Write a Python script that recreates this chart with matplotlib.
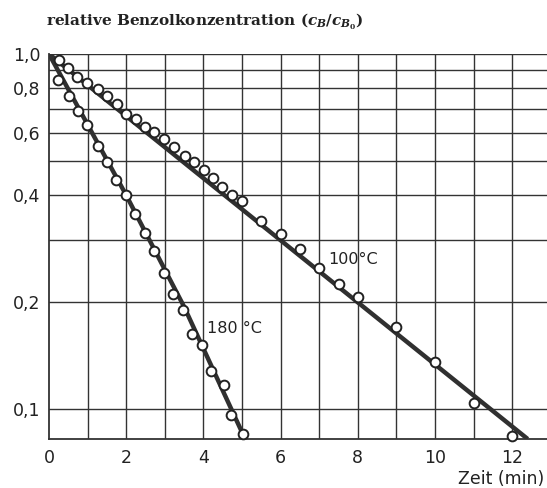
import numpy as np
import matplotlib
matplotlib.use("Agg")
import matplotlib.pyplot as plt
from matplotlib.ticker import FixedLocator, FixedFormatter, NullLocator

# Messpunkte 180 °C
t_180 = [0.24, 0.52, 0.75, 0.99, 1.26, 1.50, 1.74, 1.99, 2.24, 2.48, 2.72, 2.98,
         3.22, 3.47, 3.71, 3.96, 4.20, 4.53, 4.72, 5.02]
c_180 = [0.845, 0.763, 0.692, 0.629, 0.552, 0.496, 0.442, 0.401, 0.354, 0.313, 0.279, 0.241,
         0.211, 0.190, 0.163, 0.151, 0.128, 0.117, 0.096, 0.085]

# Messpunkte 100 °C
t_100 = [0.27, 0.50, 0.73, 0.99, 1.26, 1.51, 1.75, 1.99, 2.25, 2.49, 2.73, 2.98,
         3.23, 3.52, 3.76, 4.02, 4.26, 4.49, 4.75, 4.99, 5.5, 6.0, 6.5, 7.0, 7.5, 8.0,
         9.0, 10.0, 11.0, 12.0]
c_100 = [0.962, 0.911, 0.863, 0.827, 0.796, 0.763, 0.723, 0.676, 0.655, 0.624, 0.602, 0.575,
         0.548, 0.516, 0.495, 0.470, 0.447, 0.423, 0.401, 0.385, 0.339, 0.311, 0.283, 0.249,
         0.225, 0.207, 0.170, 0.136, 0.104, 0.084]

# Ausgleichslinien
fit_180_t = [0, 2.0, 3.5, 5.08]
fit_180_c = [1.0, 0.40, 0.194, 0.0823]
fit_100_t = [0, 12.4]
fit_100_c = [1.0, 0.0823]

x_ticks = [0, 2, 4, 6, 8, 10, 12]
y_grid = [0.1, 0.2, 0.3, 0.4, 0.5, 0.6, 0.7, 0.8, 0.9, 1.0]
y_labels = ["0,1", "0,2", "", "0,4", "", "0,6", "", "0,8", "", "1,0"]

plt.rcParams['font.family'] = 'DejaVu Sans'
plt.rcParams['mathtext.fontset'] = 'custom'
plt.rcParams['mathtext.it'] = 'DejaVu Serif:italic:bold'
plt.rcParams['mathtext.rm'] = 'DejaVu Serif:bold'

fig = plt.figure(figsize=(5.47, 4.88), dpi=100)
ax = fig.add_axes([0.0896, 0.1004, 0.9104, 0.7889])

ax.set_yscale('log')
ax.set_xlim(0, 12.9)
ax.set_ylim(0.0823, 1.0)

gridc = '#333333'
for x in range(1, 13):
    ax.axvline(x, color=gridc, lw=1.0, zorder=1)
for y in y_grid:
    ax.axhline(y, color=gridc, lw=1.0, zorder=1)

ax.plot(fit_180_t, fit_180_c, color='#303030', lw=3.2, solid_capstyle='butt', zorder=2)
ax.plot(fit_100_t, fit_100_c, color='#303030', lw=3.2, solid_capstyle='butt', zorder=2)
ax.plot(t_180, c_180, 'o', ms=7, mfc='white', mec='#222222', mew=1.4, zorder=3, clip_on=False)
ax.plot(t_100, c_100, 'o', ms=7, mfc='white', mec='#222222', mew=1.4, zorder=3, clip_on=False)

ax.text(4.1, 0.169, "180 °C", fontsize=11.5, va='center', ha='left', color='#222222')
ax.text(7.23, 0.263, "100°C", fontsize=11.5, va='center', ha='left', color='#222222')

ax.yaxis.set_major_locator(FixedLocator(y_grid))
ax.yaxis.set_major_formatter(FixedFormatter(y_labels))
ax.yaxis.set_minor_locator(NullLocator())
ax.set_xticks(x_ticks)
ax.set_xticklabels([str(v) for v in x_ticks])
ax.tick_params(axis='both', length=0, labelsize=12.5, colors='#222222')
ax.tick_params(axis='x', pad=7)
ax.tick_params(axis='y', pad=6)

for s in ['top', 'right']:
    ax.spines[s].set_visible(False)
for s in ['left', 'bottom']:
    ax.spines[s].set_color(gridc)
    ax.spines[s].set_linewidth(1.3)

fig.text(0.085, 0.955, r'relative Benzolkonzentration $(c_B/c_{B_0})$',
         fontsize=11, family='DejaVu Serif', weight='bold', ha='left', va='center',
         color='#222222')
fig.text(0.995, 0.018, "Zeit (min)", fontsize=12.5, ha='right', va='center', color='#222222')

fig.savefig("out.png", dpi=100)
